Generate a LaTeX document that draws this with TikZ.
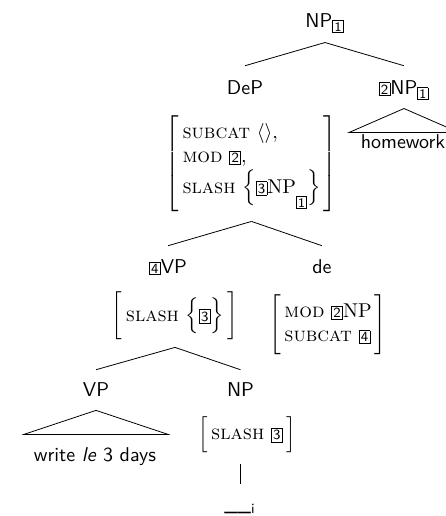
\documentclass[tikz,border=0pt]{standalone}
\usepackage{amsmath}
% boxed structure-sharing tags
\newcommand\tg[1]{\mbox{\setlength\fboxsep{0.7pt}\fbox{\sffamily\scriptsize #1}}}
\newcommand\stg[1]{\mbox{\setlength\fboxsep{0.65pt}\fbox{\sffamily\fontsize{6.5}{7.5}\selectfont #1}}}
% attribute-value matrix: rows inside brackets of a given size
\newcommand\fs[3]{$#1[\begin{array}{@{\,}l@{\,}}#3\end{array}#2]$}
% same, brackets sized to the rows (a little taller than them)
\newcommand\fsauto[1]{$\left[\begin{array}{@{\,}l@{\,}}#1\end{array}\right]%
  \delimitershortfall=-4.5pt$}
\tikzset{
  cat/.style={font=\sffamily, inner sep=0pt, anchor=base},
  avm/.style={inner sep=0pt},
}
\begin{document}
\begin{tikzpicture}[x=0.5pt, y=-0.5pt]
\useasboundingbox (0,0) rectangle (446,516);

% categories
\node[cat] (root) at (325,27)  {NP$_{\stg{1}}$};
\node[cat] (dep)  at (245,94)  {DeP};
\node[cat] (np2)  at (404,94)  {\tg{2}NP$_{\stg{1}}$};
\node[cat] (hw)   at (403,148) {homework};
\node[cat] (vp4)  at (168,273) {\tg{4}VP};
\node[cat] (de)   at (322,273) {de};
\node[cat] (vp)   at (96,396)  {VP};
\node[cat] (np)   at (240.5,396) {NP};
\node[cat] (wl)   at (95,461)  {write \textit{le} 3 days};
\node[cat] (gap)  at (240,510) {\_\_\textsubscript{i}};

% feature structures
\node[avm] (avm1) at (251.5,164) {\fsauto{\textsc{subcat}\ \langle\rangle,\\
  \textsc{mod}\ \tg{2},\\
  \textsc{slash}\ \Bigl\{\tg{3}\mathrm{NP}\raisebox{-7pt}[0pt][0pt]{\stg{1}}\Bigr\}}};
\node[avm] (avm2) at (175,316) {\fs{\biggl}{\biggr}{\textsc{slash}\ \Bigl\{\tg{3}\Bigr\}}};
\node[avm] (avm3) at (328,325) {\fs{\Biggl}{\Biggr}{\textsc{mod}\ \tg{2}\mathrm{NP}\\
  \textsc{subcat}\ \tg{4}}};
\node[avm] (avm4) at (247,435) {\fs{\Bigl}{\Bigr}{\textsc{slash}\ \tg{3}}};

% branches
\draw ([yshift=-4.5pt]root.south) -- ([yshift=7pt]dep.north);
\draw ([yshift=-4.5pt]root.south) -- ([yshift=7pt]np2.north);
\draw ([yshift=-4.5pt]avm1.south) -- ([yshift=6.5pt]vp4.north);
\draw ([yshift=-4.5pt]avm1.south) -- ([yshift=6.5pt]de.north);
\draw ([yshift=-3.5pt]avm2.south) -- ([yshift=6pt]vp.north);
\draw ([yshift=-3.5pt]avm2.south) -- ([yshift=6pt]np.north);
\draw ([yshift=-5.5pt]gap.north |- avm4.south) -- ([yshift=9.5pt]gap.north);

% roofs over unanalysed material
\coordinate (hwtop) at ([yshift=-4pt]np2.south);
\draw (hwtop) -- ++(-55,24) -- ++(110,0) -- cycle;
\coordinate (wltop) at ([yshift=-7pt]vp.south);
\draw (wltop) -- ++(-72,24) -- ++(144,0) -- cycle;
\end{tikzpicture}
\end{document}
